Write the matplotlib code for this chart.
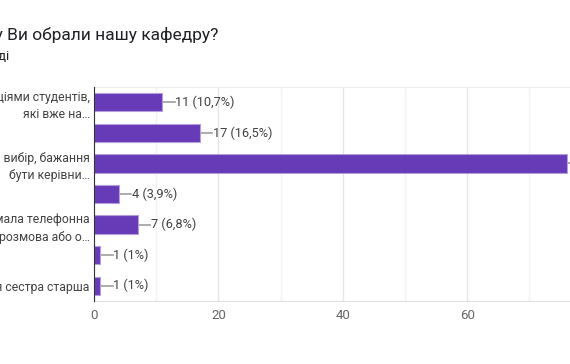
import numpy as np
import matplotlib.pyplot as plt

plt.rcParams['font.family'] = ['Roboto', 'DejaVu Sans']

labels = ['За рекомендаціями студентів,\nякі вже на…',
          '',
          'Свідомий вибір, бажання\nбути керівни…',
          '',
          'Сподобалась мала телефонна\nрозмова або о…',
          '',
          'Моя сестра старша']
values = [11, 17, 76, 4, 7, 1, 1]
pcts = ['10,7%', '16,5%', '73,8%', '3,9%', '6,8%', '1%', '1%']

W, H = 570, 364
fig = plt.figure(figsize=(W / 100, H / 100), dpi=100)

# axes: x=0 at px 94, 6.22 px per unit; y from px 87 to 301
x0, ppu = 94, 6.22
xmax = 80
ax = fig.add_axes([x0 / W, 1 - 301 / H, xmax * ppu / W, (301 - 87) / H])

y = np.arange(len(values))
ax.barh(y, values, height=0.6, color='#673ab7', edgecolor='#b39ddb', linewidth=0.8, zorder=3)
for yi, v, p in zip(y, values, pcts):
    ax.plot([v, v + 2], [yi, yi], color='#9e9e9e', lw=1.2, zorder=2)
    ax.text(v + 2.1, yi, f'{v} ({p})', va='center', ha='left', fontsize=9.2, color='#424242')

ax.set_xlim(0, xmax)
ax.set_ylim(len(values) - 0.5, -0.5)
ax.set_yticks(y)
ax.set_yticklabels(labels, fontsize=8.8, color='#424242', ha='right')
ax.set_xticks([0, 20, 40, 60, 80])
ax.set_xticks([10, 30, 50, 70], minor=True)
ax.tick_params(axis='x', which='both', length=0, labelsize=9.5, labelcolor='#666666', pad=6)
ax.tick_params(axis='y', length=0, pad=3)
ax.grid(axis='x', which='major', color='#e6e6e6', lw=1, zorder=0)
ax.grid(axis='x', which='minor', color='#f3f3f3', lw=1, zorder=0)
ax.spines['right'].set_visible(False)
ax.spines['top'].set_color('#eeeeee')
ax.spines['bottom'].set_color('#e0e0e0')
ax.spines['left'].set_color('#333333')
ax.spines['left'].set_zorder(4)
for t in ax.get_yticklabels():
    t.set_linespacing(1.45)

fig.text(218 / W, 1 - 35 / H, 'Чому Ви обрали нашу кафедру?', ha='right', va='center',
         fontsize=12.5, color='#202124')
fig.text(9 / W, 1 - 57 / H, '103 відповіді', ha='right', va='center',
         fontsize=9.5, color='#202124')

fig.savefig('out.png', dpi=100)
